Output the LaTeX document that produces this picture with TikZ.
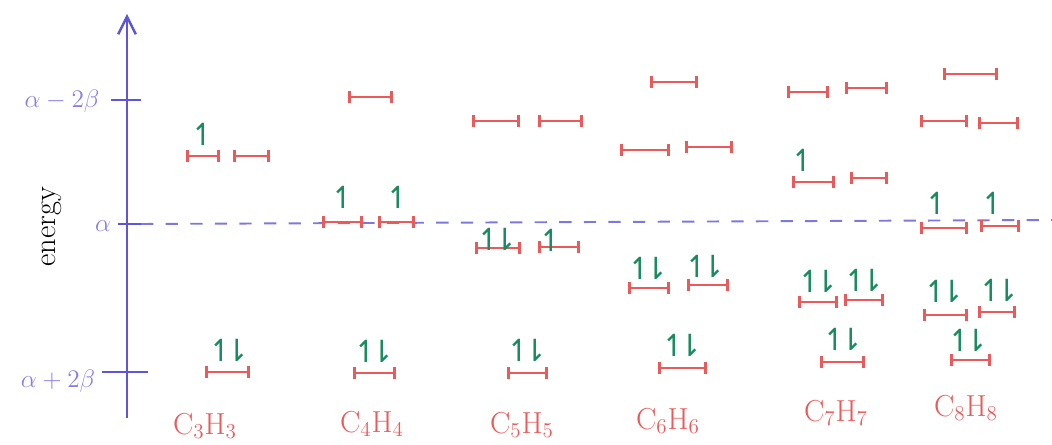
\documentclass[tikz,border=0pt]{standalone}
\usepackage{fontspec}
\newfontfamily\spinfont{DejaVu Sans}
\usetikzlibrary{arrows.meta}
\definecolor{axisblue}{RGB}{95,85,215}
\definecolor{labblue}{RGB}{135,125,230}
\definecolor{lvlred}{RGB}{235,90,90}
\definecolor{elgreen}{RGB}{25,140,95}
\begin{document}
\begin{tikzpicture}[x=0.02cm, y=-0.02cm,
  axisline/.style={draw=axisblue, line width=1.4pt},
  tick/.style={draw=axisblue, line width=1pt},
  alphaline/.style={draw=axisblue!80, line width=1.1pt, dash pattern=on 7pt off 7pt},
  axlabel/.style={text=labblue, font=\Large},
  lvl/.style={draw=lvlred, line width=1.7pt, {Bar[width=7pt]}-{Bar[width=7pt]}},
  onespin/.style={text=elgreen, font=\spinfont\LARGE, inner sep=0pt},
  twospin/.style={text=elgreen, font=\spinfont\LARGE, inner sep=0pt},
  formula/.style={text=lvlred, font=\LARGE}
]
\useasboundingbox (0,0) rectangle (1052,445);
\coordinate (axbot) at (127,418);
\coordinate (axtop) at (127,14);
\coordinate (am2b) at (127,100);
\coordinate (alpha) at (127,224);
\coordinate (ap2b) at (127,372);
\coordinate (dashend) at (1052,220);

\draw[axisline, -{Straight Barb[length=10pt, width=10pt]}] (axbot) -- (axtop);
\draw[tick] ([xshift=-9]am2b) -- ([xshift=8]am2b);
\draw[tick] ([xshift=-5]alpha) -- ([xshift=8]alpha);
\draw[tick] ([xshift=-14]ap2b) -- ([xshift=12]ap2b);
\draw[alphaline] ([xshift=8]alpha) -- (dashend);

\node[axlabel] (lm2b) at (62,101) {$\alpha-2\beta$};
\node[axlabel] (la) at (103,226) {$\alpha$};
\node[axlabel] (lp2b) at (58,381) {$\alpha+2\beta$};
\node[rotate=90, font=\LARGE] (energy) at (52,227) {energy};

\draw[lvl] (186,156) -- (220,156);
\draw[lvl] (233,156) -- (270,156);
\draw[lvl] (205,372) -- (250,372);
\node[onespin] (e3a) at (203,134) {↿};
\node[twospin] (e3b) at (229,350) {↿\kern-0.3em⇂};

\draw[lvl] (348,97) -- (393,97);
\draw[lvl] (322,222) -- (363,222);
\draw[lvl] (378,222) -- (415,222);
\draw[lvl] (353,373) -- (396,373);
\node[onespin] (e4a) at (343,197) {↿};
\node[onespin] (e4b) at (398,197) {↿};
\node[twospin] (e4c) at (374,351) {↿\kern-0.3em⇂};

\draw[lvl] (472,121) -- (520,121);
\draw[lvl] (538,121) -- (583,121);
\draw[lvl] (475,248) -- (521,248);
\draw[lvl] (538,247) -- (580,247);
\draw[lvl] (507,373) -- (548,373);
\node[twospin] (e5a) at (497,239) {↿\kern-0.3em⇂};
\node[onespin] (e5b) at (551,240) {↿};
\node[twospin] (e5c) at (527,350) {↿\kern-0.3em⇂};

\draw[lvl] (650,82) -- (698,82);
\draw[lvl] (620,150) -- (670,150);
\draw[lvl] (685,147) -- (733,147);
\draw[lvl] (628,288) -- (670,288);
\draw[lvl] (687,285) -- (729,285);
\draw[lvl] (658,368) -- (707,368);
\node[twospin] (e6a) at (648,268) {↿\kern-0.3em⇂};
\node[twospin] (e6b) at (705,266) {↿\kern-0.3em⇂};
\node[twospin] (e6c) at (682,345) {↿\kern-0.3em⇂};

\draw[lvl] (787,92) -- (829,92);
\draw[lvl] (845,88) -- (888,88);
\draw[lvl] (792,182) -- (835,182);
\draw[lvl] (850,178) -- (888,178);
\draw[lvl] (798,302) -- (838,302);
\draw[lvl] (844,300) -- (884,300);
\draw[lvl] (820,362) -- (865,362);
\node[onespin] (e7a) at (803,160) {↿};
\node[twospin] (e7b) at (818,281) {↿\kern-0.3em⇂};
\node[twospin] (e7c) at (864,280) {↿\kern-0.3em⇂};
\node[twospin] (e7d) at (843,339) {↿\kern-0.3em⇂};

\draw[lvl] (943,74) -- (998,74);
\draw[lvl] (920,121) -- (968,121);
\draw[lvl] (978,123) -- (1019,123);
\draw[lvl] (920,228) -- (968,228);
\draw[lvl] (980,226) -- (1020,226);
\draw[lvl] (923,315) -- (968,315);
\draw[lvl] (978,312) -- (1016,312);
\draw[lvl] (950,360) -- (991,360);
\node[onespin] (e8a) at (937,203) {↿};
\node[onespin] (e8b) at (993,203) {↿};
\node[twospin] (e8c) at (944,291) {↿\kern-0.3em⇂};
\node[twospin] (e8d) at (999,290) {↿\kern-0.3em⇂};
\node[twospin] (e8e) at (968,340) {↿\kern-0.3em⇂};

\node[formula] (c3) at (205,426) {$\mathrm{C_3H_3}$};
\node[formula] (c4) at (372,424) {$\mathrm{C_4H_4}$};
\node[formula] (c5) at (522,425) {$\mathrm{C_5H_5}$};
\node[formula] (c6) at (668,421) {$\mathrm{C_6H_6}$};
\node[formula] (c7) at (836,413) {$\mathrm{C_7H_7}$};
\node[formula] (c8) at (966,408) {$\mathrm{C_8H_8}$};
\end{tikzpicture}
\end{document}
